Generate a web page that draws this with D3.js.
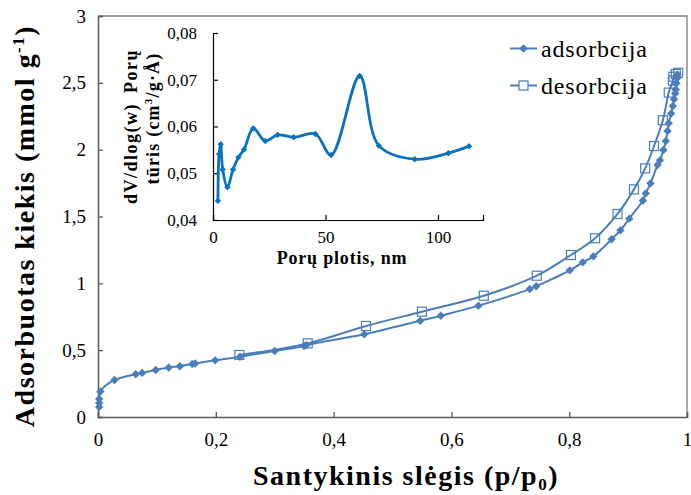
<!DOCTYPE html>
<html>
<head>
<meta charset="utf-8">
<script src="https://cdn.jsdelivr.net/npm/d3@7/dist/d3.min.js"></script>
<style>
  html, body { margin: 0; padding: 0; background: #fff; }
  svg { display: block; }
  text { font-family: "Liberation Serif", "Times New Roman", serif; fill: #000; }
</style>
</head>
<body>
<svg id="chart" width="691" height="495"></svg>
<script>
// Nitrogen isotherm: relative pressure p/p0 and adsorbed amount (mmol/g)
const adsP = [0.002, 0.002, 0.002, 0.004, 0.028, 0.064, 0.075, 0.098, 0.120, 0.139, 0.160, 0.165,
  0.199, 0.241, 0.300, 0.350, 0.354, 0.452, 0.547, 0.582, 0.646, 0.733, 0.744, 0.801, 0.823, 0.841,
  0.872, 0.887, 0.902, 0.925, 0.930, 0.938, 0.950, 0.954, 0.960, 0.964, 0.967, 0.969, 0.973, 0.976,
  0.978, 0.980, 0.981, 0.982, 0.983, 0.984];
const adsV = [0.075, 0.105, 0.135, 0.19, 0.277, 0.32, 0.33, 0.352, 0.37, 0.38, 0.397, 0.40,
  0.424, 0.451, 0.494, 0.531, 0.538, 0.619, 0.72, 0.758, 0.833, 0.957, 0.978, 1.097, 1.157, 1.202,
  1.33, 1.397, 1.484, 1.62, 1.673, 1.748, 1.885, 1.92, 1.997, 2.065, 2.14, 2.197, 2.27, 2.327,
  2.377, 2.42, 2.45, 2.497, 2.535, 2.56];
const desP = [0.985, 0.981, 0.977, 0.976, 0.969, 0.959, 0.944, 0.929, 0.910, 0.882, 0.844, 0.803,
  0.745, 0.655, 0.550, 0.455, 0.356, 0.240];
const desV = [2.575, 2.566, 2.546, 2.516, 2.427, 2.22, 2.027, 1.86, 1.703, 1.519, 1.337, 1.212,
  1.057, 0.907, 0.788, 0.681, 0.551, 0.464];
const yTicks = [0, 0.5, 1, 1.5, 2, 2.5, 3];
const xTicks = [0, 0.2, 0.4, 0.6, 0.8, 1];

// Pore size distribution (inset)
const poreW = [2.2, 2.7, 3.4, 4.3, 6.4, 8.9, 11.3, 13.8, 17.9, 23.2, 28.7, 35.9, 45.5, 52.5,
  65.2, 73.7, 89.7, 104.6, 113.8];
const poreV = [0.0441, 0.0541, 0.0562, 0.0508, 0.0470, 0.0508, 0.0534, 0.0551, 0.0596, 0.0569,
  0.0582, 0.0577, 0.0584, 0.0539, 0.0708, 0.0559, 0.0530, 0.0543, 0.0558];
const insetYTicks = [0.04, 0.05, 0.06, 0.07, 0.08];
const insetXTicks = [0, 50, 100];

const seriesNames = ["adsorbcija", "desorbcija"];

const svg = d3.select("#chart");
const comma = d => String(d).replace(".", ",");

const blue = "#4a7ebb";
const insetBlue = "#0a70c0";

// ---------- main plot ----------
const x = d3.scaleLinear().domain([0, 1]).range([98, 687]);
const y = d3.scaleLinear().domain([0, 3]).range([417, 16]);

// frame (top and right)
svg.append("path")
  .attr("d", `M${x(0)},${y(3)}H${x(1)}V${y(0)}`)
  .attr("fill", "none").attr("stroke", "#7f7f7f").attr("stroke-width", 1.3);

const yAxis = svg.append("g").attr("transform", `translate(${x(0)},0)`)
  .call(d3.axisLeft(y).tickValues(yTicks).tickFormat(comma).tickSize(-5).tickPadding(12));
const xAxis = svg.append("g").attr("transform", `translate(0,${y(0)})`)
  .call(d3.axisBottom(x).tickValues(xTicks).tickFormat(comma).tickSize(-5).tickPadding(16));
[yAxis, xAxis].forEach(g => {
  g.select(".domain").attr("stroke", "#595959").attr("stroke-width", 1.5);
  g.selectAll(".tick line").attr("stroke", "#595959").attr("stroke-width", 1.3);
  g.selectAll(".tick text").attr("font-family", "Liberation Serif").attr("font-size", 19).attr("fill", "#000");
});

const ads = adsP.map((p, i) => [p, adsV[i]]);
const des = desP.map((p, i) => [p, desV[i]]);
const line = d3.line().x(d => x(d[0])).y(d => y(d[1])).curve(d3.curveCatmullRom.alpha(0.5));

svg.append("path").datum(ads).attr("d", line)
  .attr("fill", "none").attr("stroke", blue).attr("stroke-width", 2);
svg.append("path").datum(des).attr("d", line)
  .attr("fill", "none").attr("stroke", blue).attr("stroke-width", 2);

const diamond = s => `M0,${-s}L${s},0L0,${s}L${-s},0Z`;
svg.append("g").selectAll("path").data(ads).join("path")
  .attr("transform", d => `translate(${x(d[0])},${y(d[1])})`)
  .attr("d", diamond(4.2)).attr("fill", blue);
svg.append("g").selectAll("rect").data(des).join("rect")
  .attr("x", d => x(d[0]) - 4.5).attr("y", d => y(d[1]) - 4.5)
  .attr("width", 9).attr("height", 9)
  .attr("fill", "#fff").attr("fill-opacity", 0).attr("stroke", blue).attr("stroke-width", 1.2);

// legend
const lg = svg.append("g");
seriesNames.forEach((name, i) => {
  const ly = 48.5 + i * 37;
  lg.append("line").attr("x1", 510).attr("x2", 537).attr("y1", ly).attr("y2", ly)
    .attr("stroke", blue).attr("stroke-width", 2);
  if (i === 0) {
    lg.append("path").attr("transform", `translate(523.5,${ly})`).attr("d", diamond(4.2)).attr("fill", blue);
  } else {
    lg.append("rect").attr("x", 519).attr("y", ly - 4.5).attr("width", 9).attr("height", 9)
      .attr("fill", "#fff").attr("stroke", blue).attr("stroke-width", 1.2);
  }
  lg.append("text").attr("x", 541).attr("y", ly + 8).attr("font-size", 24)
    .attr("letter-spacing", 0.8).text(name);
});

// axis titles
const xt = svg.append("text").attr("x", 406).attr("y", 485).attr("text-anchor", "middle")
  .attr("font-size", 28).attr("font-weight", "bold").attr("letter-spacing", 1.5);
xt.append("tspan").text("Santykinis slėgis (p/p");
xt.append("tspan").attr("font-size", 17).attr("dy", 5).text("0");
xt.append("tspan").attr("dy", -5).text(")");

const yt = svg.append("text").attr("transform", "translate(34,226) rotate(-90)")
  .attr("text-anchor", "middle").attr("font-size", 28).attr("font-weight", "bold").attr("letter-spacing", 1.5);
yt.append("tspan").text("Adsorbuotas kiekis (mmol g");
yt.append("tspan").attr("font-size", 17).attr("dy", -10).text("-1");
yt.append("tspan").attr("dy", 10).text(")");

// ---------- inset: pore size distribution ----------
const ix = d3.scaleLinear().domain([0, 120]).range([213, 483]);
const iy = d3.scaleLinear().domain([0.04, 0.08]).range([220, 33]);

const iyAxis = svg.append("g").attr("transform", `translate(${ix(0)},0)`)
  .call(d3.axisLeft(iy).tickValues(insetYTicks).tickFormat(d => d3.format(".2f")(d).replace(".", ","))
    .tickSize(-5).tickPadding(16));
const ixAxis = svg.append("g").attr("transform", `translate(0,${iy(0.04)})`)
  .call(d3.axisBottom(ix).tickValues(insetXTicks).tickSize(-5).tickPadding(11));
[iyAxis, ixAxis].forEach(g => {
  g.select(".domain").attr("stroke", "#000").attr("stroke-width", 1.2);
  g.selectAll(".tick line").attr("stroke", "#000").attr("stroke-width", 1.2);
  g.selectAll(".tick text").attr("font-family", "Liberation Serif").attr("font-size", 17).attr("fill", "#000");
});

const pore = poreW.map((w, i) => [w, poreV[i]]);
const iline = d3.line().x(d => ix(d[0])).y(d => iy(d[1])).curve(d3.curveCatmullRom.alpha(0.5));
svg.append("path").datum(pore).attr("d", iline)
  .attr("fill", "none").attr("stroke", insetBlue).attr("stroke-width", 2.8);
svg.append("g").selectAll("path").data(pore).join("path")
  .attr("transform", d => `translate(${ix(d[0])},${iy(d[1])})`)
  .attr("d", diamond(3.2)).attr("fill", insetBlue);

svg.append("text").attr("x", 342).attr("y", 264).attr("text-anchor", "middle")
  .attr("font-size", 18).attr("font-weight", "bold").attr("letter-spacing", 0.8).text("Porų plotis, nm");

const it1 = svg.append("text").attr("transform", "translate(137,126.5) rotate(-90)")
  .attr("text-anchor", "middle").attr("font-size", 18).attr("font-weight", "bold").attr("letter-spacing", 1.5);
it1.append("tspan").text("dV/dlog(w)");
it1.append("tspan").attr("dx", 10).text("Porų");
const it2 = svg.append("text").attr("transform", "translate(159,118.5) rotate(-90)")
  .attr("text-anchor", "middle").attr("font-size", 18).attr("font-weight", "bold").attr("letter-spacing", 1.2);
it2.append("tspan").text("tūris (cm");
it2.append("tspan").attr("font-size", 11).attr("dy", -7).text("3");
it2.append("tspan").attr("dy", 7).text("/g·Å)");
</script>
</body>
</html>
